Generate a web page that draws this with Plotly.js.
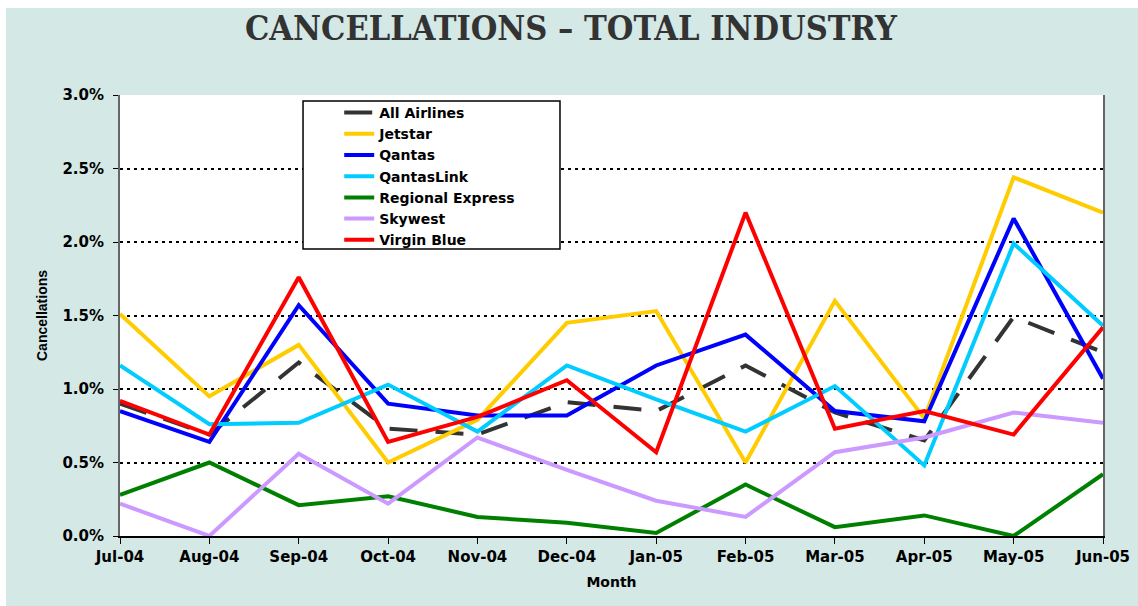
<!DOCTYPE html>
<html>
<head>
<meta charset="utf-8">
<script src="https://cdn.plot.ly/plotly-3.0.1.min.js"></script>
<style>
  html, body { margin: 0; padding: 0; background: #ffffff; }
  #chart { position: absolute; left: 6px; top: 8px; width: 1132px; height: 598px; }
</style>
</head>
<body>
<div id="chart"></div>
<script>
const months = ["Jul-04","Aug-04","Sep-04","Oct-04","Nov-04","Dec-04","Jan-05","Feb-05","Mar-05","Apr-05","May-05","Jun-05"];

const allAirlines     = [0.0090,0.0069,0.0118,0.0073,0.0069,0.0091,0.0085,0.0116,0.0084,0.0065,0.0149,0.0125];
const jetstar         = [0.0151,0.0095,0.0130,0.0050,0.0079,0.0145,0.0153,0.0050,0.0160,0.0080,0.0244,0.0220];
const qantas          = [0.0085,0.0064,0.0157,0.0090,0.0082,0.0082,0.0116,0.0137,0.0085,0.0078,0.0216,0.0107];
const qantasLink      = [0.0116,0.0076,0.0077,0.0103,0.0071,0.0116,0.0093,0.0071,0.0102,0.0048,0.0199,0.0143];
const regionalExpress = [0.0028,0.0050,0.0021,0.0027,0.0013,0.0009,0.0002,0.0035,0.0006,0.0014,0.0000,0.0042];
const skywest         = [0.0022,0.0000,0.0056,0.0022,0.0067,0.0045,0.0024,0.0013,0.0057,0.0067,0.0084,0.0077];
const virginBlue      = [0.0092,0.0069,0.0176,0.0064,0.0081,0.0106,0.0057,0.0220,0.0073,0.0085,0.0069,0.0142];

const seriesNames  = ["All Airlines","Jetstar","Qantas","QantasLink","Regional Express","Skywest","Virgin Blue"];
const seriesData   = [allAirlines, jetstar, qantas, qantasLink, regionalExpress, skywest, virginBlue];
const seriesColors = ["#333333","#FFCC00","#0000FF","#00CCFF","#008000","#CC99FF","#FF0000"];

const traces = seriesNames.map((name, i) => ({
  type: "scatter",
  mode: "lines",
  name: name,
  x: months,
  y: seriesData[i],
  line: {
    color: seriesColors[i],
    width: 4,
    dash: i === 0 ? "28px,18px" : "solid"
  },
  hoverinfo: "x+y+name"
}));

const wideBold = {family: "DejaVu Sans, Verdana, sans-serif", weight: "bold", color: "#000000"};
const narrowBold = {family: "Liberation Sans, Arial, sans-serif", weight: "bold", color: "#000000"};

const layout = {
  width: 1132,
  height: 598,
  paper_bgcolor: "#d4e8e6",
  plot_bgcolor: "#ffffff",
  margin: {l: 114, r: 35, t: 87, b: 70},
  showlegend: true,
  title: {
    text: "CANCELLATIONS – TOTAL INDUSTRY",
    font: {family: "DejaVu Serif Condensed, Liberation Serif, serif", weight: "bold", size: 34, color: "#333333"},
    x: 0.499, xref: "container", xanchor: "center",
    y: 0.967, yref: "container", yanchor: "middle"
  },
  xaxis: {
    type: "category",
    range: [0, 11],
    showgrid: false,
    showline: true,
    linecolor: "#000000",
    linewidth: 2,
    ticks: "outside",
    ticklen: 6,
    tickwidth: 1,
    tickcolor: "#000000",
    tickfont: Object.assign({size: 15}, wideBold),
    zeroline: false,
    title: {text: "Month", font: Object.assign({size: 14}, wideBold), standoff: 12}
  },
  yaxis: {
    range: [0, 0.03],
    dtick: 0.005,
    tick0: 0,
    tickformat: ".1%",
    showgrid: true,
    gridcolor: "#000000",
    gridwidth: 2,
    griddash: "3px,4px",
    zeroline: false,
    showline: true,
    mirror: true,
    linecolor: "#666666",
    linewidth: 2,
    ticks: "outside",
    ticklen: 5,
    tickwidth: 1,
    tickcolor: "#000000",
    ticklabelstandoff: 6,
    tickfont: Object.assign({size: 15}, wideBold),
    title: {text: "Cancellations", font: Object.assign({size: 14}, narrowBold), standoff: 11}
  },
  legend: {
    x: 0.223, xanchor: "left",
    y: 0.9955, yanchor: "top",
    bgcolor: "rgba(0,0,0,0)",
    borderwidth: 0,
    font: Object.assign({size: 14}, wideBold),
    tracegroupgap: 0
  },
  shapes: [{
    type: "rect",
    xref: "paper", yref: "paper",
    x0: 0.1862, x1: 0.4476, y0: 0.6508, y1: 0.9864,
    fillcolor: "#ffffff",
    line: {color: "#000000", width: 1.5},
    layer: "above"
  }]
};

Plotly.newPlot("chart", traces, layout, {displayModeBar: false, staticPlot: true});
</script>
</body>
</html>
